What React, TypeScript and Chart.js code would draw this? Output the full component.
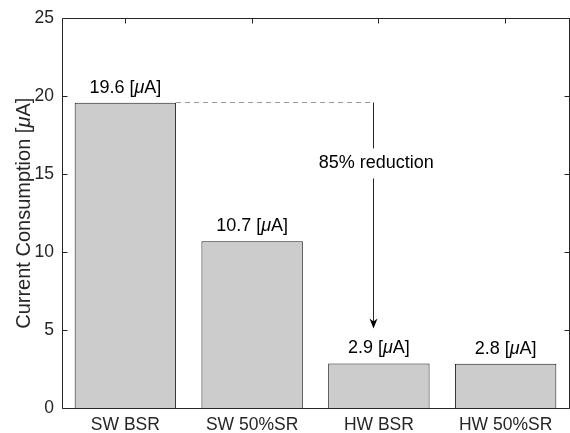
import React, { useEffect, useRef } from 'react';
import { Chart, registerables } from 'chart.js';

Chart.register(...registerables);

// ---- data ----
const categories = ['SW BSR', 'SW 50%SR', 'HW BSR', 'HW 50%SR'];
const currents = [19.6, 10.7, 2.86, 2.84];
const valueLabels = ['19.6', '10.7', '2.9', '2.8'];
const yTickValues = [0, 5, 10, 15, 20, 25];
const yTitleParts: [string, boolean][] = [['Current Consumption [', false], ['μ', true], ['A]', false]];
const reductionText = '85% reduction';
// annotation (data units)
const refLevel = 19.6;
const arrowX = 1.957;
const arrowEnd = 5.1;
const reductionTextX = 1.98;
const reductionTextY = 15.7;

const FONT = '"Liberation Sans", Arial, Helvetica, sans-serif';
const AXIS_COLOR = '#262626';

function fontStr(italic: boolean, size: number) {
  return `${italic ? 'italic ' : ''}${size}px ${FONT}`;
}

function drawMixed(ctx: CanvasRenderingContext2D, parts: [string, boolean][], x: number, y: number, size: number) {
  const widths = parts.map(([t, it]) => {
    ctx.font = fontStr(it, size);
    return ctx.measureText(t).width;
  });
  const total = widths.reduce((a, b) => a + b, 0);
  let cx = x - total / 2;
  ctx.textAlign = 'left';
  parts.forEach(([t, it], i) => {
    ctx.font = fontStr(it, size);
    ctx.fillText(t, cx, y);
    cx += widths[i];
  });
}

const overlayPlugin = {
  id: 'overlay',
  afterDraw(chart: any) {
    const ctx: CanvasRenderingContext2D = chart.ctx;
    const { left, right, top, bottom } = chart.chartArea;
    const xs = chart.scales.x;
    const ys = chart.scales.y;
    const px = (v: number) => Math.floor(v) + 0.5;

    ctx.save();
    // box
    ctx.strokeStyle = AXIS_COLOR;
    ctx.lineWidth = 1;
    ctx.beginPath();
    ctx.moveTo(px(left), px(top));
    ctx.lineTo(px(right), px(top));
    ctx.lineTo(px(right), px(bottom));
    ctx.lineTo(px(left), px(bottom));
    ctx.closePath();
    ctx.stroke();

    // inward ticks
    const tl = 5;
    ctx.beginPath();
    yTickValues.forEach((v) => {
      const y = px(ys.getPixelForValue(v));
      ctx.moveTo(px(left), y);
      ctx.lineTo(px(left) + tl, y);
      ctx.moveTo(px(right), y);
      ctx.lineTo(px(right) - tl, y);
    });
    categories.forEach((_, i) => {
      const x = px(xs.getPixelForValue(i));
      ctx.moveTo(x, px(top));
      ctx.lineTo(x, px(top) + tl);
    });
    ctx.stroke();

    // value labels
    ctx.fillStyle = '#000';
    ctx.textBaseline = 'alphabetic';
    const meta = chart.getDatasetMeta(0);
    meta.data.forEach((bar: any, i: number) => {
      drawMixed(ctx, [[`${valueLabels[i]} [`, false], ['μ', true], ['A]', false]], bar.x, bar.y - 10, 18);
    });

    // dashed reference line
    const bar0 = meta.data[0];
    const yRef = px(ys.getPixelForValue(refLevel));
    const ax = px(xs.getPixelForValue(arrowX));
    ctx.strokeStyle = '#999999';
    ctx.setLineDash([5, 4]);
    ctx.beginPath();
    ctx.moveTo(bar0.x + bar0.width / 2, yRef);
    ctx.lineTo(ax, yRef);
    ctx.stroke();
    ctx.setLineDash([]);

    // arrow with text gap
    const tx = xs.getPixelForValue(reductionTextX);
    const ty = ys.getPixelForValue(reductionTextY);
    const yEnd = ys.getPixelForValue(arrowEnd);
    ctx.strokeStyle = '#262626';
    ctx.beginPath();
    ctx.moveTo(ax, yRef);
    ctx.lineTo(ax, ty - 15);
    ctx.moveTo(ax, ty + 15);
    ctx.lineTo(ax, yEnd - 6);
    ctx.stroke();
    ctx.fillStyle = '#000';
    ctx.beginPath();
    ctx.moveTo(ax, yEnd);
    ctx.lineTo(ax - 4, yEnd - 10);
    ctx.lineTo(ax, yEnd - 7);
    ctx.lineTo(ax + 4, yEnd - 10);
    ctx.closePath();
    ctx.fill();

    ctx.textBaseline = 'middle';
    ctx.font = fontStr(false, 18);
    ctx.textAlign = 'center';
    ctx.fillText(reductionText, tx, ty);

    // y title
    ctx.fillStyle = AXIS_COLOR;
    ctx.translate(24, (top + bottom) / 2);
    ctx.rotate(-Math.PI / 2);
    ctx.textBaseline = 'middle';
    drawMixed(ctx, yTitleParts, 0, 0, 20);
    ctx.restore();
  },
};

export default function App() {
  const ref = useRef<HTMLCanvasElement | null>(null);
  useEffect(() => {
    if (!ref.current) return;
    const chart = new Chart(ref.current, {
      type: 'bar',
      data: {
        labels: categories,
        datasets: [
          {
            data: currents,
            backgroundColor: '#cccccc',
            borderColor: '#1a1a1a',
            borderWidth: 1,
            borderSkipped: 'start',
            barPercentage: 1,
            categoryPercentage: 0.8,
          },
        ],
      },
      options: {
        responsive: false,
        animation: false,
        layout: { padding: { left: 0, top: 16, right: 1, bottom: 0 } },
        plugins: { legend: { display: false }, tooltip: { enabled: false } },
        scales: {
          x: {
            grid: { display: false, drawTicks: false },
            border: { display: false },
            ticks: { color: AXIS_COLOR, font: { family: FONT, size: 17.5 }, padding: 7, maxRotation: 0 },
            afterFit: (s: any) => {
              s.height = 25;
            },
          },
          y: {
            min: 0,
            max: 25,
            grid: { display: false, drawTicks: false },
            border: { display: false },
            ticks: { stepSize: 5, color: AXIS_COLOR, font: { family: FONT, size: 17.5 }, padding: 8 },
            afterFit: (s: any) => {
              s.width = 62;
            },
          },
        },
      },
      plugins: [overlayPlugin],
    });
    return () => chart.destroy();
  }, []);
  return (
    <div style={{ position: 'absolute', left: 0, top: 0, width: 570, height: 433, background: '#fff' }}>
      <canvas ref={ref} width={570} height={433} style={{ display: 'block' }} />
    </div>
  );
}
